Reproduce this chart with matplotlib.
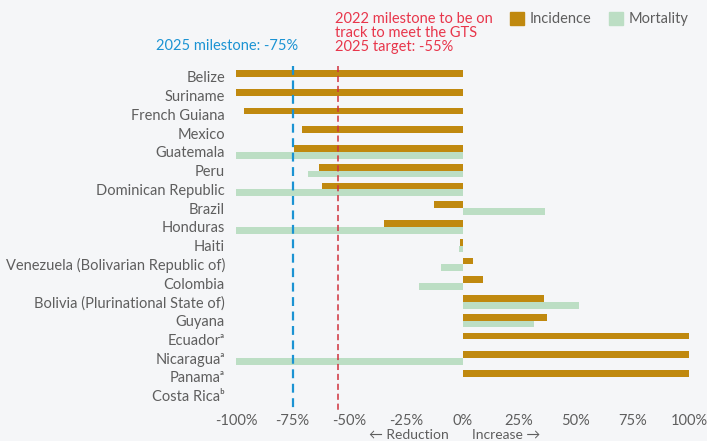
import matplotlib
matplotlib.use("Agg")
import matplotlib.pyplot as plt
from matplotlib.patches import Patch
from matplotlib.transforms import blended_transform_factory
import numpy as np

countries = ["Belize", "Suriname", "French Guiana", "Mexico", "Guatemala", "Peru",
             "Dominican Republic", "Brazil", "Honduras", "Haiti",
             "Venezuela (Bolivarian Republic of)", "Colombia",
             "Bolivia (Plurinational State of)", "Guyana", "Ecuadorᵃ",
             "Nicaraguaᵃ", "Panamaᵃ", "Costa Ricaᵇ"]
incidence = [-100, -100, -96.5, -70.8, -74.5, -63.3, -62, -12.8, -34.5, -1,
             4.6, 9.2, 36, 37.5, 100, 100, 100, np.nan]
mortality = [np.nan, np.nan, np.nan, np.nan, -100, -68.1, -100, 36.3, -100, -1.5,
             -9.7, -19.4, 51.6, 31.7, np.nan, -100, np.nan, np.nan]
xticks = [-100, -75, -50, -25, 0, 25, 50, 75, 100]
xticklabels = ["-100%", "-75%", "-50%", "-25%", "0%", "25%", "50%", "75%", "100%"]
milestone_2025 = -75
milestone_2022 = -55

C_INC = "#C0890F"
C_MORT = "#BCDEC4"
C_BLUE = "#1B93D3"
C_RED = "#D0313D"
C_RED_TXT = "#E8364B"
C_TXT = "#5E5E5E"
BG = "#F5F6F8"

plt.rcParams["font.family"] = ["Lato", "DejaVu Sans"]

W, H = 707, 441
fig = plt.figure(figsize=(W / 100, H / 100), dpi=100, facecolor=BG)
ax = fig.add_axes([236 / W, 1 - 403 / H, (689 - 236) / W, (403 - 62) / H])
ax.set_facecolor(BG)

y = np.arange(len(countries))
bh = 0.36
inc = np.array(incidence, dtype=float)
mort = np.array(mortality, dtype=float)
ax.barh(y - bh / 2, np.nan_to_num(inc), height=bh, color=C_INC, zorder=2)
ax.barh(y + bh / 2, np.nan_to_num(mort), height=bh, color=C_MORT, zorder=1)

ax.set_xlim(-100, 100)
ax.set_ylim(17.4, -0.8)

ax.plot([milestone_2025, milestone_2025], [-0.6, 17.85], color=C_BLUE, lw=1.6,
        ls=(0, (4, 2.5)), clip_on=False, zorder=3)
ax.plot([milestone_2022, milestone_2022], [-0.6, 17.85], color=C_RED, lw=1.1,
        ls=(0, (4, 2.5)), clip_on=False, zorder=3)

ax.set_yticks(y)
ax.set_yticklabels(countries, fontsize=10.5, color=C_TXT)
ax.set_xticks(xticks)
ax.set_xticklabels(xticklabels, fontsize=10.5, color=C_TXT)
ax.tick_params(axis="y", length=0, pad=8)
ax.tick_params(axis="x", length=0, pad=8)
for s in ax.spines.values():
    s.set_visible(False)

tr = blended_transform_factory(ax.transData, fig.transFigure)
ax.text(-72.5, 1 - 46 / H, "2025 milestone: -75%", transform=tr, ha="right",
        va="center", fontsize=10.5, color=C_BLUE)
ax.text(-56.5, 1 - 33 / H, "2022 milestone to be on\ntrack to meet the GTS\n2025 target: -55%",
        transform=tr, ha="left", va="center", fontsize=10.5, color=C_RED_TXT,
        linespacing=1.02)

ax.text(-6, 1 - 435 / H, "← Reduction", transform=tr, ha="right", va="center",
        fontsize=10, color=C_TXT)
ax.text(4, 1 - 435 / H, "Increase →", transform=tr, ha="left", va="center",
        fontsize=10, color=C_TXT)

handles = [Patch(color=C_INC, label="Incidence"), Patch(color=C_MORT, label="Mortality")]
fig.legend(handles=handles, loc="center right", bbox_to_anchor=(694 / W, 1 - 19 / H),
           ncol=2, frameon=False, fontsize=10.5, handlelength=1.0, handleheight=1.0,
           handletextpad=0.35, columnspacing=1.2, labelcolor=C_TXT, borderaxespad=0)

fig.savefig("out.png", dpi=100, facecolor=BG)
